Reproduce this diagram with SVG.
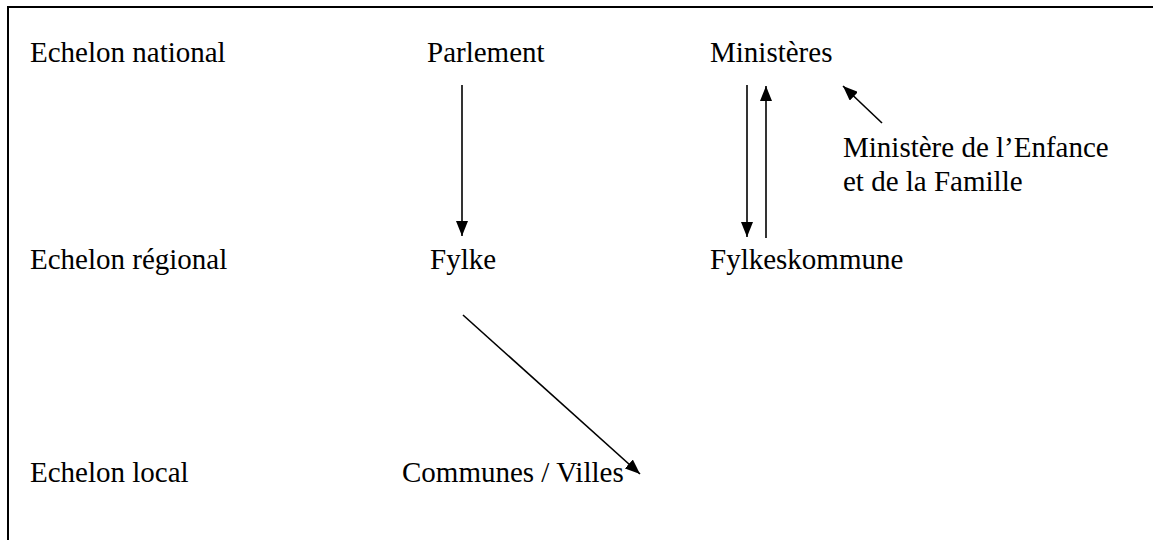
<svg xmlns="http://www.w3.org/2000/svg" width="1153" height="540" viewBox="0 0 1153 540">
<style>
text{font-family:"Liberation Serif","Times New Roman",serif;font-size:29px;fill:#000}
.c{stroke:#000;stroke-width:1.6;fill:none}
.frame{stroke:#000;stroke-width:2;fill:none}
</style>
<defs>
<marker id="ahL" viewBox="0 0 15 12" refX="15" refY="6" markerWidth="15" markerHeight="12" markerUnits="userSpaceOnUse" orient="auto">
<path d="M0,0 L15,6 L0,12 Z" fill="#000"/>
</marker>
</defs>
<rect width="1153" height="540" fill="#fff"/>
<path class="frame" d="M8,540 L8,7 L1153,7"/>
<g id="labels">
<text x="30" y="62">Echelon national</text>
<text x="30" y="269">Echelon régional</text>
<text x="30" y="482">Echelon local</text>
</g>
<g id="parlement"><text x="427" y="62">Parlement</text></g>
<g id="ministeres"><text x="710" y="62">Ministères</text></g>
<g id="ministere-enfance"><text x="843" y="157">Ministère de l’Enfance</text><text x="843" y="191">et de la Famille</text></g>
<g id="fylke"><text x="430" y="269">Fylke</text></g>
<g id="fylkeskommune"><text x="710" y="269">Fylkeskommune</text></g>
<g id="communes"><text x="402" y="482">Communes / Villes</text></g>
<g id="connectors">
<line class="c" x1="462" y1="85" x2="462" y2="236" marker-end="url(#ahL)"/>
<line class="c" x1="747" y1="85" x2="747" y2="237" marker-end="url(#ahL)"/>
<line class="c" x1="766" y1="238" x2="766" y2="86" marker-end="url(#ahL)"/>
<line class="c" x1="882" y1="123" x2="843" y2="86" marker-end="url(#ahL)"/>
<line class="c" x1="463" y1="315" x2="640" y2="474" marker-end="url(#ahL)"/>
</g>
</svg>
